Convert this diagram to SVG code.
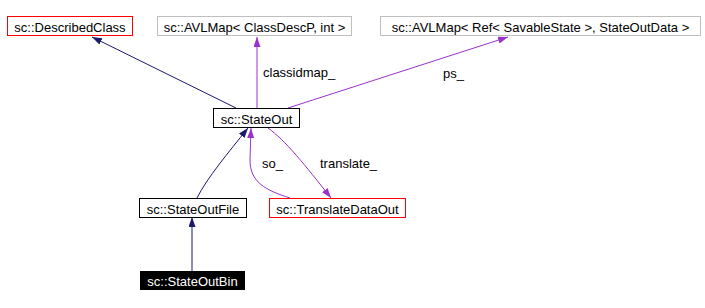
<svg xmlns="http://www.w3.org/2000/svg" width="705" height="308" viewBox="0 0 705 308">
<style>
text{font-family:"Liberation Sans",Arial,sans-serif;font-size:13px;fill:#000}
.n text{text-anchor:middle}
.box{fill:#fff;stroke:#000;stroke-width:1}
.red{stroke:#ff0000}
.gray{stroke:#bfbfbf}
.inh{fill:none;stroke:#191970;stroke-width:1;marker-end:url(#an)}
.use{fill:none;stroke:#9a32cd;stroke-width:1;marker-end:url(#ap)}
</style>
<defs>
<marker id="an" markerUnits="userSpaceOnUse" markerWidth="11" markerHeight="8" refX="10" refY="3.5" orient="auto"><path d="M0,0 L10,3.5 L0,7 z" fill="#191970"/></marker>
<marker id="ap" markerUnits="userSpaceOnUse" markerWidth="11" markerHeight="8" refX="10" refY="3.5" orient="auto"><path d="M0,0 L10,3.5 L0,7 z" fill="#9a32cd"/></marker>
</defs>
<rect width="705" height="308" fill="#fff"/>
<g id="edges">
<path class="inh" d="M236,108 L92,37"/>
<path class="use" d="M257,108 L257,37"/>
<path class="use" d="M288,108 L508,37"/>
<path class="inh" d="M197,198 C207,178 228,153 248,128"/>
<path class="use" d="M290,198 C265,190 250,182 250,160 L251,128"/>
<path class="use" d="M268,128 C285,140 305,165 331,198"/>
<path class="inh" d="M192,271 L192,217"/>
<text x="263" y="77">classidmap_</text>
<text x="443" y="78">ps_</text>
<text x="262" y="168">so_</text>
<text x="320" y="168">translate_</text>
</g>
<g id="DescribedClass" class="n"><rect class="box red" x="7.5" y="16.5" width="125" height="19"/><text x="70" y="31.5">sc::DescribedClass</text></g>
<g id="AVLMapClassDesc" class="n"><rect class="box gray" x="157.5" y="16.5" width="194" height="19"/><text x="254.5" y="31.5">sc::AVLMap&lt; ClassDescP, int &gt;</text></g>
<g id="AVLMapRef" class="n"><rect class="box gray" x="380.5" y="16.5" width="320" height="19"/><text x="540.5" y="31.5">sc::AVLMap&lt; Ref&lt; SavableState &gt;, StateOutData &gt;</text></g>
<g id="StateOut" class="n"><rect class="box" x="213.5" y="108.5" width="86" height="19"/><text x="256.5" y="123.5">sc::StateOut</text></g>
<g id="StateOutFile" class="n"><rect class="box" x="139.5" y="198.5" width="107" height="19"/><text x="193" y="213.5">sc::StateOutFile</text></g>
<g id="TranslateDataOut" class="n"><rect class="box red" x="269.5" y="198.5" width="136" height="19"/><text x="337.5" y="213.5">sc::TranslateDataOut</text></g>
<g id="StateOutBin" class="n"><rect x="140" y="271" width="105" height="19" fill="#000"/><text x="192.5" y="285.5" style="fill:#fff">sc::StateOutBin</text></g>
</svg>
